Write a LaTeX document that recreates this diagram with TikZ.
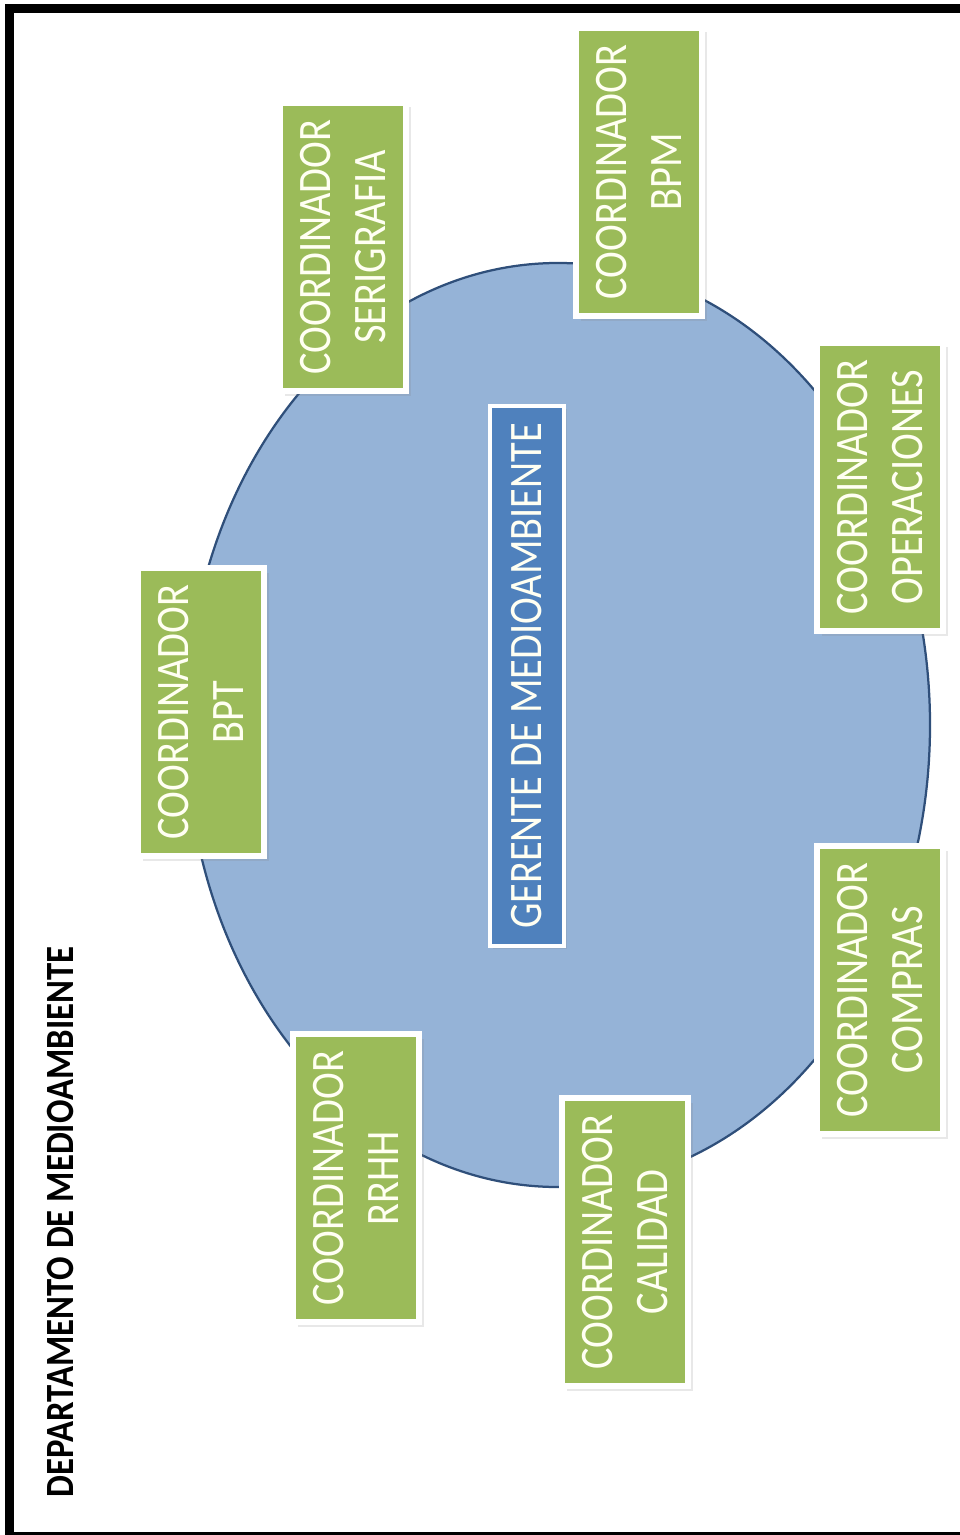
\documentclass[tikz,border=0pt]{standalone}
\usepackage{fontspec}
\setmainfont{Carlito}
\newfontfamily\boxfont[FakeStretch=0.867]{Carlito}
\definecolor{coordgreen}{RGB}{155,187,89}
\definecolor{gerblue}{RGB}{79,129,189}
\definecolor{ovalfill}{RGB}{149,179,215}
\definecolor{ovaldraw}{RGB}{47,79,122}
\definecolor{boxtext}{RGB}{255,255,242}
\usetikzlibrary{shapes.geometric, shadows}

\begin{document}
\begin{tikzpicture}[
  x=0.2mm, y=-0.2mm,
  oval/.style={ellipse, draw=ovaldraw, fill=ovalfill, line width=0.45mm, minimum width=148.8mm, minimum height=184.8mm, inner sep=0pt},
  cbox/.style={rotate=90, draw=white, line width=1.2mm, fill=coordgreen, minimum width=57.6mm, minimum height=25.2mm, inner sep=0pt, align=center, text=boxtext, font=\boxfont\fontsize{26.5}{31.3}\selectfont, drop shadow={opacity=0.18, shadow xshift=0.9mm, shadow yshift=-0.9mm}},
  gbox/.style={rotate=90, draw=white, line width=0.8mm, fill=gerblue, minimum width=107.8mm, minimum height=14.8mm, inner sep=0pt, text=boxtext, font=\boxfont\fontsize{26.5}{31.3}\selectfont, drop shadow={opacity=0.18, shadow xshift=0.6mm, shadow yshift=-0.6mm}},
  titulo/.style={rotate=90, inner sep=0pt, font=\boxfont\bfseries\fontsize{22.8}{27}\selectfont}
]
  \useasboundingbox (0,0) rectangle (960,1535);
  \draw[line width=1.8mm] (9.5,1535) -- (9.5,9) -- (960,9);
  \draw[line width=0.6mm] (5,1533) -- (960,1533);

  \node[oval] (oval) at (558,725) {};
  \node[gbox] (gerente) at (527,676) {GERENTE DE MEDIOAMBIENTE};

  \node[cbox] (bpt) at (201,712) {COORDINADOR\\BPT};
  \node[cbox] (serigrafia) at (343,247) {COORDINADOR\\SERIGRAFIA};
  \node[cbox] (bpm) at (639,172) {COORDINADOR\\BPM};
  \node[cbox] (operaciones) at (880,487) {COORDINADOR\\OPERACIONES};
  \node[cbox] (compras) at (880,990) {COORDINADOR\\COMPRAS};
  \node[cbox] (calidad) at (625,1242) {COORDINADOR\\CALIDAD};
  \node[cbox] (rrhh) at (356,1178) {COORDINADOR\\RRHH};

  \node[titulo] (depto) at (60,1222) {DEPARTAMENTO DE MEDIOAMBIENTE};
\end{tikzpicture}
\end{document}
